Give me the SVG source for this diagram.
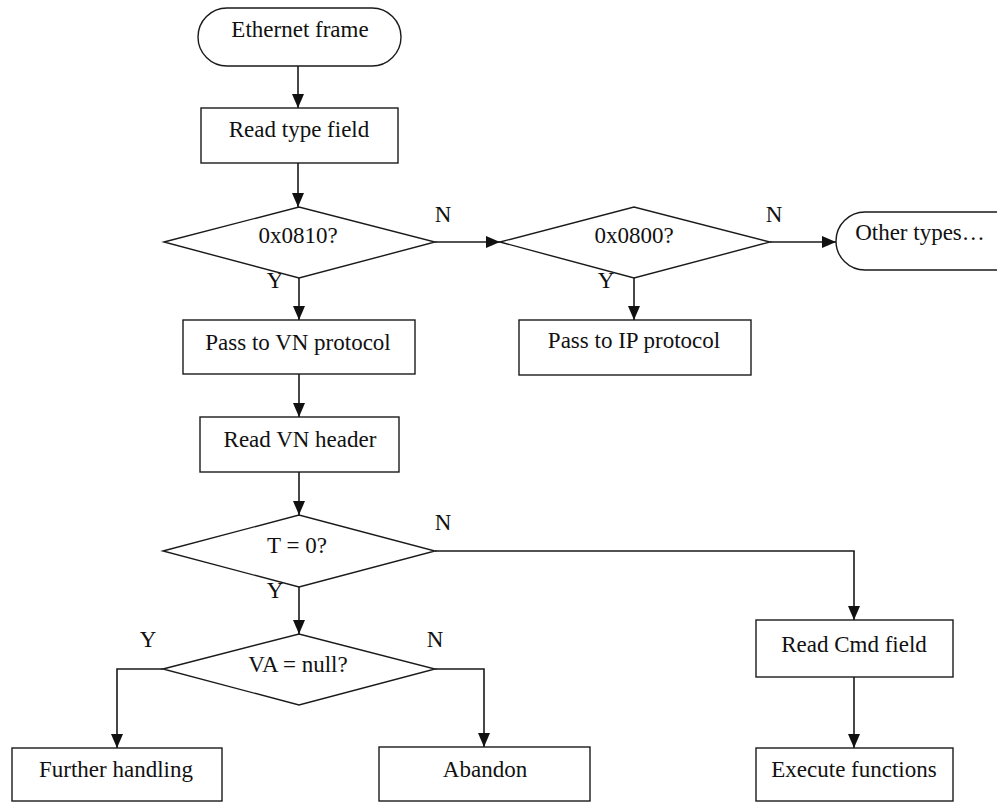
<svg xmlns="http://www.w3.org/2000/svg" width="997" height="802" viewBox="0 0 997 802">
  <style>
    .box { fill: #fff; stroke: #1a1a1a; stroke-width: 1.4; }
    .lbl { font-family: "Liberation Serif", "Times New Roman", serif; font-size: 23px; fill: #111; text-anchor: middle; }
    .edge { fill: none; stroke: #1a1a1a; stroke-width: 1.6; }
  </style>
  <defs>
    <marker id="arrow" markerUnits="userSpaceOnUse" markerWidth="14" markerHeight="12" refX="14" refY="6" orient="auto">
      <path d="M0,0 L14,6 L0,12 Z" fill="#111"/>
    </marker>
  </defs>
  <rect width="997" height="802" fill="#fff"/>

  <g id="connectors">
    <path class="edge" d="M298,66 V108" marker-end="url(#arrow)"/>
    <path class="edge" d="M298,163 V207" marker-end="url(#arrow)"/>
    <path class="edge" d="M299,278 V320" marker-end="url(#arrow)"/>
    <path class="edge" d="M435,242 H500" marker-end="url(#arrow)"/>
    <path class="edge" d="M634,278 V320" marker-end="url(#arrow)"/>
    <path class="edge" d="M770,242 H836" marker-end="url(#arrow)"/>
    <path class="edge" d="M299,374 V417" marker-end="url(#arrow)"/>
    <path class="edge" d="M299,472 V515" marker-end="url(#arrow)"/>
    <path class="edge" d="M299,587 V634" marker-end="url(#arrow)"/>
    <path class="edge" d="M435,551 H854 V620" marker-end="url(#arrow)"/>
    <path class="edge" d="M163,669 H117 V748" marker-end="url(#arrow)"/>
    <path class="edge" d="M435,669 H484 V747" marker-end="url(#arrow)"/>
    <path class="edge" d="M854,677 V748" marker-end="url(#arrow)"/>
    <text class="lbl" x="275" y="288">Y</text>
    <text class="lbl" x="443" y="222">N</text>
    <text class="lbl" x="606" y="288">Y</text>
    <text class="lbl" x="774" y="222">N</text>
    <text class="lbl" x="443" y="530">N</text>
    <text class="lbl" x="275" y="598">Y</text>
    <text class="lbl" x="148" y="647">Y</text>
    <text class="lbl" x="435" y="647">N</text>
  </g>

  <g id="ethernet-frame">
    <rect class="box" x="198" y="8" width="203" height="58" rx="29"/>
    <text class="lbl" x="300" y="37">Ethernet frame</text>
  </g>
  <g id="read-type">
    <rect class="box" x="201" y="108" width="197" height="55"/>
    <text class="lbl" x="299" y="137">Read type field</text>
  </g>
  <g id="is-0810">
    <polygon class="box" points="164,242 299,207 435,242 299,278"/>
    <text class="lbl" x="298" y="243">0x0810?</text>
  </g>
  <g id="is-0800">
    <polygon class="box" points="500,242 634,207 770,242 634,278"/>
    <text class="lbl" x="634" y="243">0x0800?</text>
  </g>
  <g id="other-types">
    <rect class="box" x="836" y="212" width="190" height="58" rx="29"/>
    <text class="lbl" x="920" y="240">Other types…</text>
  </g>
  <g id="pass-vn">
    <rect class="box" x="183" y="320" width="232" height="54"/>
    <text class="lbl" x="298" y="350">Pass to VN protocol</text>
  </g>
  <g id="pass-ip">
    <rect class="box" x="519" y="320" width="232" height="55"/>
    <text class="lbl" x="634" y="348">Pass to IP protocol</text>
  </g>
  <g id="read-vn-header">
    <rect class="box" x="200" y="417" width="199" height="55"/>
    <text class="lbl" x="300" y="447">Read VN header</text>
  </g>
  <g id="t-zero">
    <polygon class="box" points="163,551 299,515 435,551 299,587"/>
    <text class="lbl" x="297" y="553">T = 0?</text>
  </g>
  <g id="va-null">
    <polygon class="box" points="163,669 299,634 435,669 299,705"/>
    <text class="lbl" x="298" y="672">VA = null?</text>
  </g>
  <g id="read-cmd">
    <rect class="box" x="756" y="620" width="197" height="57"/>
    <text class="lbl" x="854" y="652">Read Cmd field</text>
  </g>
  <g id="further-handling">
    <rect class="box" x="12" y="748" width="210" height="53"/>
    <text class="lbl" x="116" y="777">Further handling</text>
  </g>
  <g id="abandon">
    <rect class="box" x="379" y="747" width="211" height="54"/>
    <text class="lbl" x="485" y="777">Abandon</text>
  </g>
  <g id="execute">
    <rect class="box" x="756" y="748" width="197" height="53"/>
    <text class="lbl" x="854" y="777">Execute functions</text>
  </g>
</svg>
